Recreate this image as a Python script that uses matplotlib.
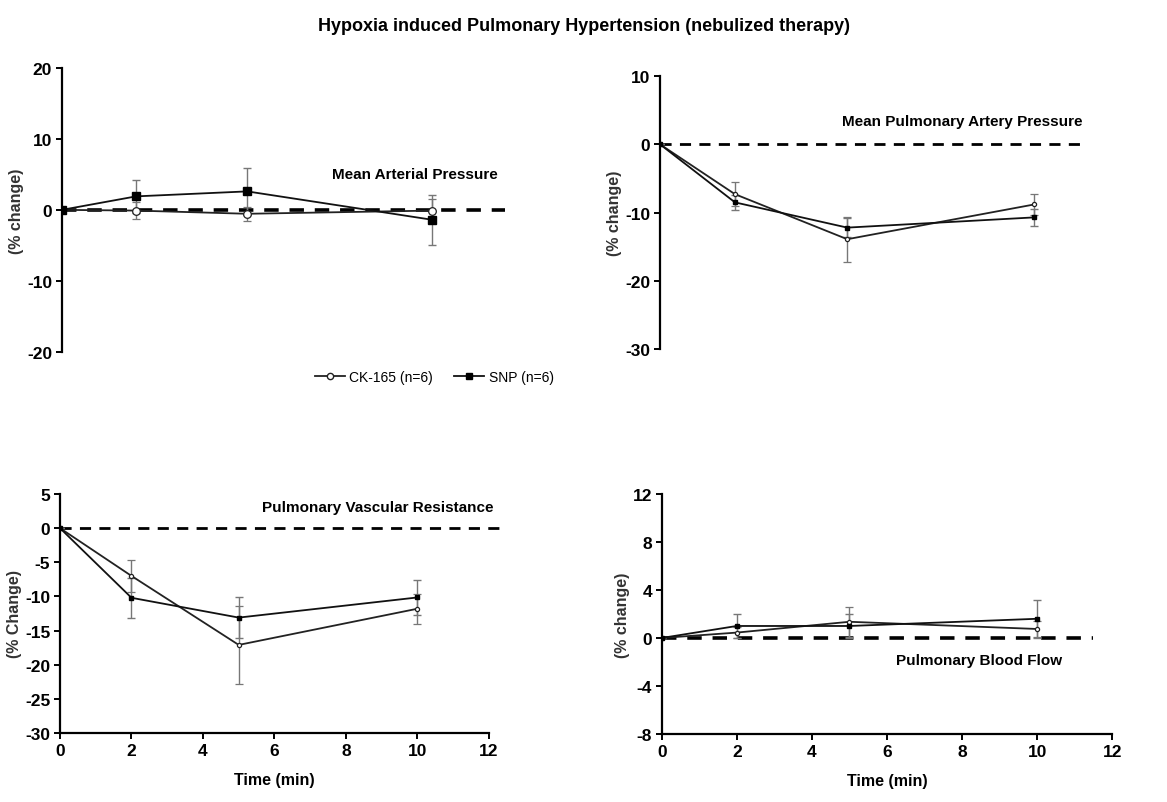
import numpy as np
import matplotlib
matplotlib.use("Agg")
import matplotlib.pyplot as plt
from matplotlib.lines import Line2D

plt.rcParams['font.family'] = ['Liberation Sans', 'DejaVu Sans']
plt.rcParams['axes.unicode_minus'] = False

# === Data ===
time = [0, 2, 5, 10]

map_ck = [0, -0.1, -0.55, -0.1]
map_ck_err = [0, 1.2, 1.0, 1.6]
map_snp = [0, 1.9, 2.6, -1.4]
map_snp_err = [0, 2.3, 3.3, 3.5]

mpap_ck = [0, -7.3, -13.9, -8.8]
mpap_ck_err = [0, 1.8, 3.3, 1.5]
mpap_snp = [0, -8.5, -12.2, -10.7]
mpap_snp_err = [0, 1.1, 1.4, 1.2]

pvr_ck = [0, -7.0, -17.1, -11.8]
pvr_ck_err = [0, 2.4, 5.7, 2.2]
pvr_snp = [0, -10.2, -13.1, -10.15]
pvr_snp_err = [0, 2.9, 3.0, 2.5]

pbf_ck = [0, 0.45, 1.35, 0.75]
pbf_ck_err = [0, 0.45, 1.25, 0.65]
pbf_snp = [0, 1.0, 1.0, 1.6]
pbf_snp_err = [0, 1.0, 1.0, 1.6]

fig = plt.figure(figsize=(11.67, 8.03), dpi=100)

ax_tl = fig.add_axes([0.0531, 0.5604, 0.381, 0.354])
ax_tr = fig.add_axes([0.5656, 0.564, 0.385, 0.340])
ax_bl = fig.add_axes([0.0514, 0.0859, 0.3676, 0.2977])
ax_br = fig.add_axes([0.567, 0.0847, 0.386, 0.2989])


def draw(ax, ck, ck_err, snp, snp_err, ms):
    eb = dict(ecolor='#777777', elinewidth=1.0, capsize=3, capthick=1.0)
    ax.errorbar(time, ck, yerr=ck_err, color='#222222', lw=1.3, marker='o',
                ms=ms, mfc='white', mec='#222222', mew=0.9, **eb)
    ax.errorbar(time, snp, yerr=snp_err, color='#111111', lw=1.3,
                marker='s', ms=ms, mfc='black', mec='black', **eb)
    for s in ['top', 'right']:
        ax.spines[s].set_visible(False)
    ax.spines['left'].set_linewidth(1.6)
    ax.spines['bottom'].set_linewidth(1.6)
    ax.set_xlim(0, 12)
    ax.tick_params(axis='both', direction='out', width=1.4, length=4,
                   labelsize=12.5, pad=3)


def bold_ticks(ax):
    for lbl in ax.get_xticklabels() + ax.get_yticklabels():
        lbl.set_fontweight('bold')


def bottom_off(ax):
    ax.spines['bottom'].set_visible(False)
    ax.set_xticks([])


dash = (0, (4, 3))
lab_kw = dict(fontsize=11.5, fontweight='bold', color='#333333', labelpad=2)
ann_kw = dict(ha='right', va='center', fontsize=11, fontweight='bold')

# Mean Arterial Pressure
draw(ax_tl, map_ck, map_ck_err, map_snp, map_snp_err, ms=5.5)
ax_tl.set_ylim(-20, 20)
ax_tl.set_yticks([-20, -10, 0, 10, 20])
ax_tl.hlines(0, 0, 11.95, colors='black', linestyles=dash, lw=2.6, zorder=1)
bottom_off(ax_tl)
bold_ticks(ax_tl)
ax_tl.set_ylabel('(% change)', **lab_kw)
ax_tl.text(0.98, 0.627, 'Mean Arterial Pressure', transform=ax_tl.transAxes, **ann_kw)

# Mean Pulmonary Artery Pressure
draw(ax_tr, mpap_ck, mpap_ck_err, mpap_snp, mpap_snp_err, ms=3)
ax_tr.set_ylim(-30, 10)
ax_tr.set_yticks([-30, -20, -10, 0, 10])
ax_tr.hlines(0, 0, 11.4, colors='black', linestyles=dash, lw=2.0, zorder=1)
bottom_off(ax_tr)
bold_ticks(ax_tr)
ax_tr.set_ylabel('(% change)', **lab_kw)
ax_tr.text(0.94, 0.835, 'Mean Pulmonary Artery Pressure', transform=ax_tr.transAxes, **ann_kw)

# Pulmonary Vascular Resistance
draw(ax_bl, pvr_ck, pvr_ck_err, pvr_snp, pvr_snp_err, ms=3)
ax_bl.set_ylim(-30, 5)
ax_bl.set_yticks([-30, -25, -20, -15, -10, -5, 0, 5])
ax_bl.set_xticks([0, 2, 4, 6, 8, 10, 12])
bold_ticks(ax_bl)
ax_bl.hlines(0, 0, 12.3, colors='black', linestyles=dash, lw=2.0,
             zorder=1, clip_on=False)
ax_bl.set_ylabel('(% Change)', **lab_kw)
ax_bl.set_xlabel('Time (min)', fontsize=11.5, fontweight='bold', labelpad=10)
ax_bl.text(1.01, 0.946, 'Pulmonary Vascular Resistance', transform=ax_bl.transAxes, **ann_kw)

# Pulmonary Blood Flow
draw(ax_br, pbf_ck, pbf_ck_err, pbf_snp, pbf_snp_err, ms=3)
ax_br.set_ylim(-8, 12)
ax_br.set_yticks([-8, -4, 0, 4, 8, 12])
ax_br.set_xticks([0, 2, 4, 6, 8, 10, 12])
bold_ticks(ax_br)
ax_br.hlines(0, 0, 11.5, colors='black', linestyles=dash, lw=2.6, zorder=1)
ax_br.set_ylabel('(% change)', **lab_kw)
ax_br.set_xlabel('Time (min)', fontsize=11.5, fontweight='bold', labelpad=10)
ax_br.text(0.89, 0.31, 'Pulmonary Blood Flow', transform=ax_br.transAxes, **ann_kw)

# === Legend & title ===
handles = [
    Line2D([], [], color='#222222', lw=1.3, marker='o', ms=4.5, mfc='white', mec='#222222'),
    Line2D([], [], color='#111111', lw=1.3, marker='s', ms=4.5, mfc='black', mec='black'),
]
labels = ['CK-165 (n=6)', 'SNP (n=6)']
fig.legend(handles, labels, loc='center', bbox_to_anchor=(0.372, 0.529), ncol=2,
           frameon=False, fontsize=10, handlelength=2.2, columnspacing=1.5,
           handletextpad=0.3)

fig.suptitle('Hypoxia induced Pulmonary Hypertension (nebulized therapy)',
             x=0.5, y=0.978, fontsize=13, fontweight='bold')

fig.savefig('out.png', dpi=100)
